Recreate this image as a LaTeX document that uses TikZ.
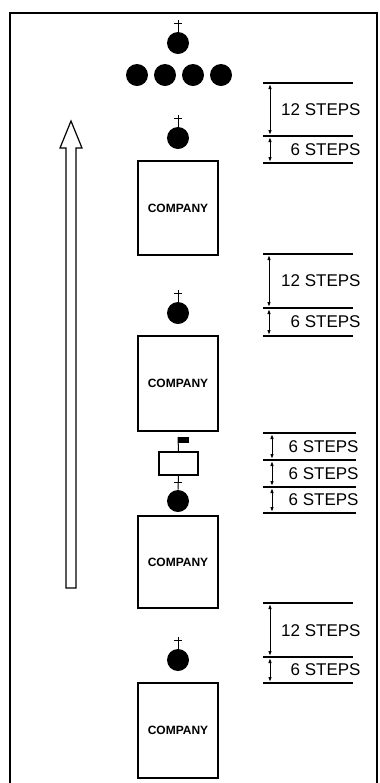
\documentclass[tikz,border=0pt]{standalone}
\usepackage{fontspec}
\setmainfont{Liberation Sans}
\usetikzlibrary{arrows.meta,calc}
\begin{document}
\begin{tikzpicture}[x=0.5pt,y=-0.5pt,
  soldier/.style={circle,fill=black,inner sep=0pt,minimum size=11pt},
  unit/.style={draw,line width=0.6pt,inner sep=0pt,minimum width=40pt,font=\bfseries\fontsize{6}{7}\selectfont},
  tickline/.style={line width=0.5pt},
  dimline/.style={line width=0.6pt},
  dimarrow/.style={line width=0.5pt,{Latex[length=2.5pt,width=1.8pt]}-{Latex[length=2.5pt,width=1.8pt]}},
  steps/.style={anchor=east,inner sep=0pt,font=\fontsize{8.5}{9}\selectfont},
  bigarrow/.style={line width=0.6pt,fill=white}]
\useasboundingbox (0,0) rectangle (380,783);
\fill[white] (0,0) rectangle (380,783);
% frame
\draw[line width=1.2pt] (10,795) -- (10,13) -- (377,13) -- (377,795);

% soldiers
\node[soldier] (d1) at (178,43) {};
\node[soldier] (r1) at (137,75) {};
\node[soldier] (r2) at (165,75) {};
\node[soldier] (r3) at (193,75) {};
\node[soldier] (r4) at (221,75) {};
\node[soldier] (d2) at (178,138) {};
\node[soldier] (d3) at (178,313) {};
\node[soldier] (d4) at (178,501) {};
\node[soldier] (d5) at (178,660) {};
\foreach \d in {d1,d2,d3,d5}{
  \draw[tickline] (\d.north) -- ++(0,-12) ++(-4,4) -- ++(8,0);
}

% companies
\node[unit,minimum height=47pt] (c1) at (178,208) {COMPANY};
\node[unit,minimum height=47.5pt] (c2) at (178,383.5) {COMPANY};
\node[unit,minimum height=46pt] (c3) at (178,562) {COMPANY};
\node[unit,minimum height=47.5pt] (c4) at (178,730.5) {COMPANY};

% guidon bearer
\node[draw,line width=0.6pt,inner sep=0pt,minimum width=19.5pt,minimum height=11.5pt] (gb) at (178.5,463.5) {};
\coordinate (st) at (178,437);
\node[fill=black,inner sep=0pt,minimum width=5.5pt,minimum height=3pt,anchor=north west] (flag) at (st) {};
\draw[tickline] (gb.north) -- (st);
\draw[tickline] (gb.south) -- (d4.north);
\draw[tickline] ($(d4.north)+(-4,-7)$) -- ++(8,0);

% direction arrow
\draw[bigarrow] (66,588) -- (66,148) -- (60,148) -- (71,121) -- (82,148) -- (76,148) -- (76,588) -- cycle;

% dimension group 1
\draw[dimline] (263,83) -- (353,83);
\draw[dimline] (263,136) -- (353,136);
\draw[dimline] (263,163) -- (353,163);
\draw[dimarrow] (270,84) -- (270,135);
\draw[dimarrow] (270,137) -- (270,162);
\node[steps] (g1a) at (361,110) {12 STEPS};
\node[steps] (g1b) at (361,150) {6 STEPS};

% dimension group 2
\draw[dimline] (263,254) -- (353,254);
\draw[dimline] (263,308) -- (353,308);
\draw[dimline] (263,336) -- (353,336);
\draw[dimarrow] (269,255) -- (269,307);
\draw[dimarrow] (269,309) -- (269,335);
\node[steps] (g2a) at (361,281) {12 STEPS};
\node[steps] (g2b) at (361,322) {6 STEPS};

% dimension group 3
\draw[dimline] (263,433) -- (356,433);
\draw[dimline] (263,460) -- (356,460);
\draw[dimline] (263,487) -- (356,487);
\draw[dimline] (263,513) -- (356,513);
\draw[dimarrow] (272,434) -- (272,459);
\draw[dimarrow] (272,461) -- (272,486);
\draw[dimarrow] (272,488) -- (272,512);
\node[steps] (g3a) at (359,446.5) {6 STEPS};
\node[steps] (g3b) at (359,473.5) {6 STEPS};
\node[steps] (g3c) at (359,500) {6 STEPS};

% dimension group 4
\draw[dimline] (263,603) -- (353,603);
\draw[dimline] (263,657) -- (353,657);
\draw[dimline] (263,683) -- (353,683);
\draw[dimarrow] (270,604) -- (270,656);
\draw[dimarrow] (270,658) -- (270,682);
\node[steps] (g4a) at (361,631) {12 STEPS};
\node[steps] (g4b) at (361,670) {6 STEPS};
\end{tikzpicture}
\end{document}
